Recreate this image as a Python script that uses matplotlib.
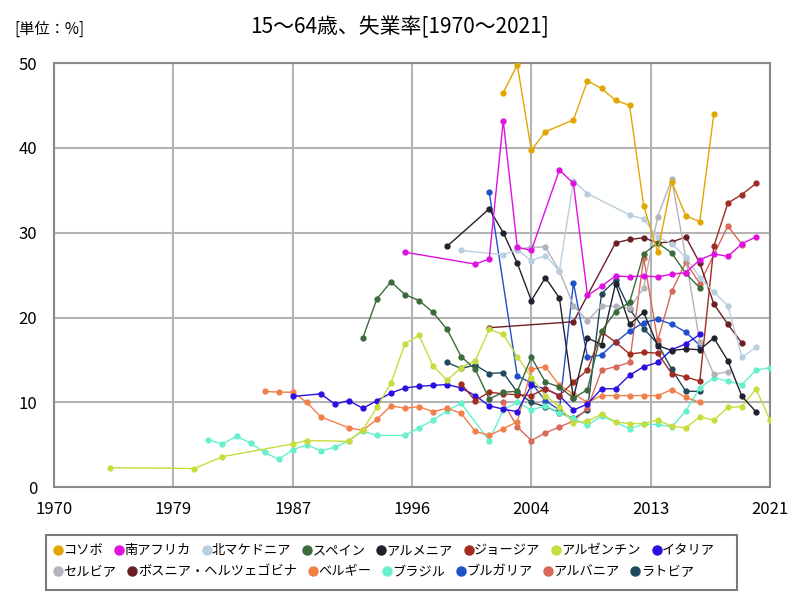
import matplotlib
matplotlib.use("Agg")
import matplotlib.pyplot as plt
from matplotlib.lines import Line2D
from matplotlib.patches import Rectangle

plt.rcParams['font.family'] = ['Noto Sans CJK JP', 'DejaVu Sans']

# --- data (15-64 unemployment rate, %) ---
kosovo_years = [2002, 2003, 2004, 2005, 2007, 2008, 2009, 2010, 2011, 2012, 2013, 2014, 2015, 2016, 2017]
kosovo_vals = [46.5, 49.8, 39.7, 41.9, 43.3, 47.9, 47.0, 45.6, 45.0, 33.2, 27.7, 36.0, 32.0, 31.3, 44.0]

safrica_years = [1995, 2000, 2001, 2002, 2003, 2004, 2006, 2007, 2008, 2009, 2010, 2011, 2012, 2013,
                 2014, 2015, 2016, 2017, 2018, 2019, 2020]
safrica_vals = [27.7, 26.3, 26.9, 43.2, 28.3, 27.9, 37.4, 35.8, 22.6, 23.7, 24.9, 24.8, 24.9, 24.8,
                25.1, 25.3, 26.8, 27.5, 27.2, 28.7, 29.5]

nmacedonia_years = [1999, 2002, 2003, 2004, 2005, 2006, 2007, 2008, 2011, 2012, 2013, 2014, 2015,
                    2016, 2017, 2018, 2019, 2020]
nmacedonia_vals = [27.9, 27.4, 28.0, 26.7, 27.3, 25.5, 36.1, 34.6, 32.1, 31.6, 29.5, 28.7, 27.1,
                   24.7, 23.0, 21.4, 15.3, 16.5]

spain_years = list(range(1992, 2017))
spain_vals = [17.6, 22.2, 24.2, 22.7, 22.0, 20.6, 18.6, 15.4, 13.9, 10.4, 11.2, 11.3, 15.3, 12.4,
              11.8, 10.5, 11.5, 18.4, 20.7, 21.8, 27.5, 28.8, 27.6, 25.2, 23.5]

armenia_years = [1998, 2001, 2002, 2003, 2004, 2005, 2006, 2007, 2008, 2009, 2010, 2011, 2012,
                 2013, 2014, 2015, 2016, 2017, 2018, 2019, 2020]
armenia_vals = [28.4, 32.8, 30.0, 26.4, 22.0, 24.7, 22.3, 10.5, 17.6, 16.8, 24.0, 19.2, 20.6,
                16.7, 16.1, 16.3, 16.2, 17.6, 14.9, 10.7, 8.9]

georgia_years = list(range(1999, 2021))
georgia_vals = [12.2, 10.2, 11.2, 11.0, 10.9, 10.8, 11.6, 10.8, 12.4, 13.8, 18.3, 17.1, 15.7,
                15.9, 15.8, 13.4, 13.0, 12.5, 28.4, 33.5, 34.5, 35.8]

argentina_years = [1974, 1980, 1982, 1987, 1988, 1991] + list(range(1992, 2022))
argentina_vals = [2.3, 2.2, 3.6, 5.1, 5.5, 5.4, 6.8, 9.4, 12.3, 16.9, 17.9, 14.3, 12.6, 14.1,
                  14.9, 18.6, 18.0, 15.4, 12.9, 10.8, 9.5, 7.6, 7.8, 8.6, 7.7, 7.5, 7.5, 7.9,
                  7.2, 7.0, 8.3, 7.9, 9.4, 9.5, 11.6, 7.9]

italy_years = [1987] + list(range(1989, 2017))
italy_vals = [10.7, 11.0, 9.8, 10.2, 9.3, 10.2, 11.1, 11.7, 11.9, 12.0, 12.1, 11.7, 10.8, 9.6,
              9.2, 8.9, 12.0, 11.6, 10.8, 9.1, 9.8, 11.6, 11.6, 13.2, 14.2, 14.7, 16.2, 16.9, 18.0]

serbia_years = list(range(2003, 2019))
serbia_vals = [28.0, 28.3, 28.3, 25.5, 21.4, 19.6, 21.4, 21.3, 21.1, 23.5, 31.9, 36.3, 27.0,
               17.1, 13.3, 13.6]

bosnia_years = [2001, 2007, 2010, 2011, 2012, 2013, 2014, 2015, 2016, 2017, 2018, 2019]
bosnia_vals = [18.8, 19.5, 28.8, 29.2, 29.4, 28.8, 28.9, 29.5, 26.4, 21.6, 19.2, 17.0]

belgium_years = [1985, 1986, 1987, 1988, 1989] + list(range(1991, 2017))
belgium_vals = [11.3, 11.2, 11.2, 10.0, 8.3, 7.0, 6.7, 8.0, 9.6, 9.3, 9.5, 8.9, 9.3, 8.7, 6.6,
                6.1, 6.9, 7.7, 13.9, 14.2, 12.0, 11.0, 10.0, 10.8, 10.8, 10.8, 10.8, 10.8,
                11.5, 10.6, 10.0]

brazil_years = (list(range(1981, 1994)) + list(range(1995, 2000)) + list(range(2001, 2010))
                + list(range(2011, 2022)))
brazil_vals = [5.6, 5.1, 6.0, 5.2, 4.1, 3.3, 4.4, 5.0, 4.3, 4.7, 5.5, 6.6, 6.1, 6.1, 7.0, 7.9,
               9.0, 9.9, 5.5, 9.1, 10.0, 9.1, 9.6, 8.7, 8.1, 7.3, 8.4, 6.9, 7.4, 7.4, 7.1,
               9.0, 11.7, 12.9, 12.5, 12.1, 13.8, 14.1]

bulgaria_years = [2001] + list(range(2003, 2017))
bulgaria_vals = [34.8, 13.1, 12.3, 10.2, 9.1, 24.1, 15.3, 15.6, 17.1, 18.4, 19.4, 19.8, 19.2,
                 18.3, 16.7]

albania_years = list(range(2002, 2017)) + [2018, 2019]
albania_vals = [10.0, 7.1, 5.5, 6.4, 7.1, 7.8, 9.3, 13.8, 14.2, 14.7, 27.0, 17.3, 23.1, 26.5,
                24.0, 30.8, 28.6]

latvia_years = list(range(1998, 2017))
latvia_vals = [14.7, 14.0, 14.4, 13.4, 13.5, 11.2, 10.0, 9.5, 8.8, 8.1, 9.1, 22.8, 24.4, 21.0,
               18.7, 16.9, 13.9, 11.3, 11.3]

series_names = ["コソボ", "南アフリカ", "北マケドニア", "スペイン", "アルメニア", "ジョージア",
                "アルゼンチン", "イタリア", "セルビア", "ボスニア・ヘルツェゴビナ", "ベルギー",
                "ブラジル", "ブルガリア", "アルバニア", "ラトビア"]
series_years = [kosovo_years, safrica_years, nmacedonia_years, spain_years, armenia_years,
                georgia_years, argentina_years, italy_years, serbia_years, bosnia_years,
                belgium_years, brazil_years, bulgaria_years, albania_years, latvia_years]
series_vals = [kosovo_vals, safrica_vals, nmacedonia_vals, spain_vals, armenia_vals,
               georgia_vals, argentina_vals, italy_vals, serbia_vals, bosnia_vals,
               belgium_vals, brazil_vals, bulgaria_vals, albania_vals, latvia_vals]

x_tick_labels = ["1970", "1979", "1987", "1996", "2004", "2013", "2021"]
y_ticks = [0, 10, 20, 30, 40, 50]

colors = ["#e3a600", "#e010e0", "#b8cfe0", "#3b6b3b", "#22222e", "#a02c20", "#c8dc3c",
          "#2a10e0", "#b3b3bb", "#6b1e24", "#f0804a", "#66f0cc", "#2050c8", "#d8685a",
          "#1f4a5c"]

fig = plt.figure(figsize=(8, 6), dpi=100)
ax = fig.add_axes([0.0675, 0.188, 0.895, 0.707])

# draw later legend entries first so the early ones sit on top
for name, xs, ys, c in reversed(list(zip(series_names, series_years, series_vals, colors))):
    ax.plot(xs, ys, color=c, linewidth=1.0, marker="o", markersize=3.5, zorder=3)

xt = [1970 + i * (2021 - 1970) / 6 for i in range(7)]
ax.set_xlim(1970, 2021)
ax.set_ylim(0, 50)
ax.set_xticks(xt)
ax.set_xticklabels(x_tick_labels, fontsize=12)
ax.set_yticks(y_ticks)
ax.set_yticklabels([str(v) for v in y_ticks], fontsize=12)
ax.tick_params(axis="x", length=0, pad=10)
ax.tick_params(axis="y", length=0, pad=12)
ax.grid(True, color="#b4b4b4", linewidth=1.5, zorder=0)
ax.set_axisbelow(True)
for sp in ax.spines.values():
    sp.set_color("#8a8a8a")
    sp.set_linewidth(1.5)

fig.text(0.5, 0.955, "15～64歳、失業率[1970～2021]", ha="center", va="center", fontsize=15)
fig.text(0.018, 0.952, "[単位：%]", ha="left", va="center", fontsize=11)

# legend: two rows laid out like the reference, inside one grey frame
handles = [Line2D([], [], color=c, marker="o", linestyle="", markersize=6.5) for c in colors]
rows = [(0, 8), (8, 15)]
row_y = [0.082, 0.047]
for (a, b), y in zip(rows, row_y):
    fig.legend(handles[a:b], series_names[a:b], ncol=b - a, loc="center left",
               bbox_to_anchor=(0.063, y), frameon=False, fontsize=9.5,
               handletextpad=-0.2, columnspacing=0.6, handlelength=1.2,
               borderaxespad=0, borderpad=0)
fig.patches.append(Rectangle((0.058, 0.017), 0.863, 0.092, transform=fig.transFigure,
                             fill=False, edgecolor="#7a7a7a", linewidth=1.5))

fig.savefig("out.png", dpi=100)
